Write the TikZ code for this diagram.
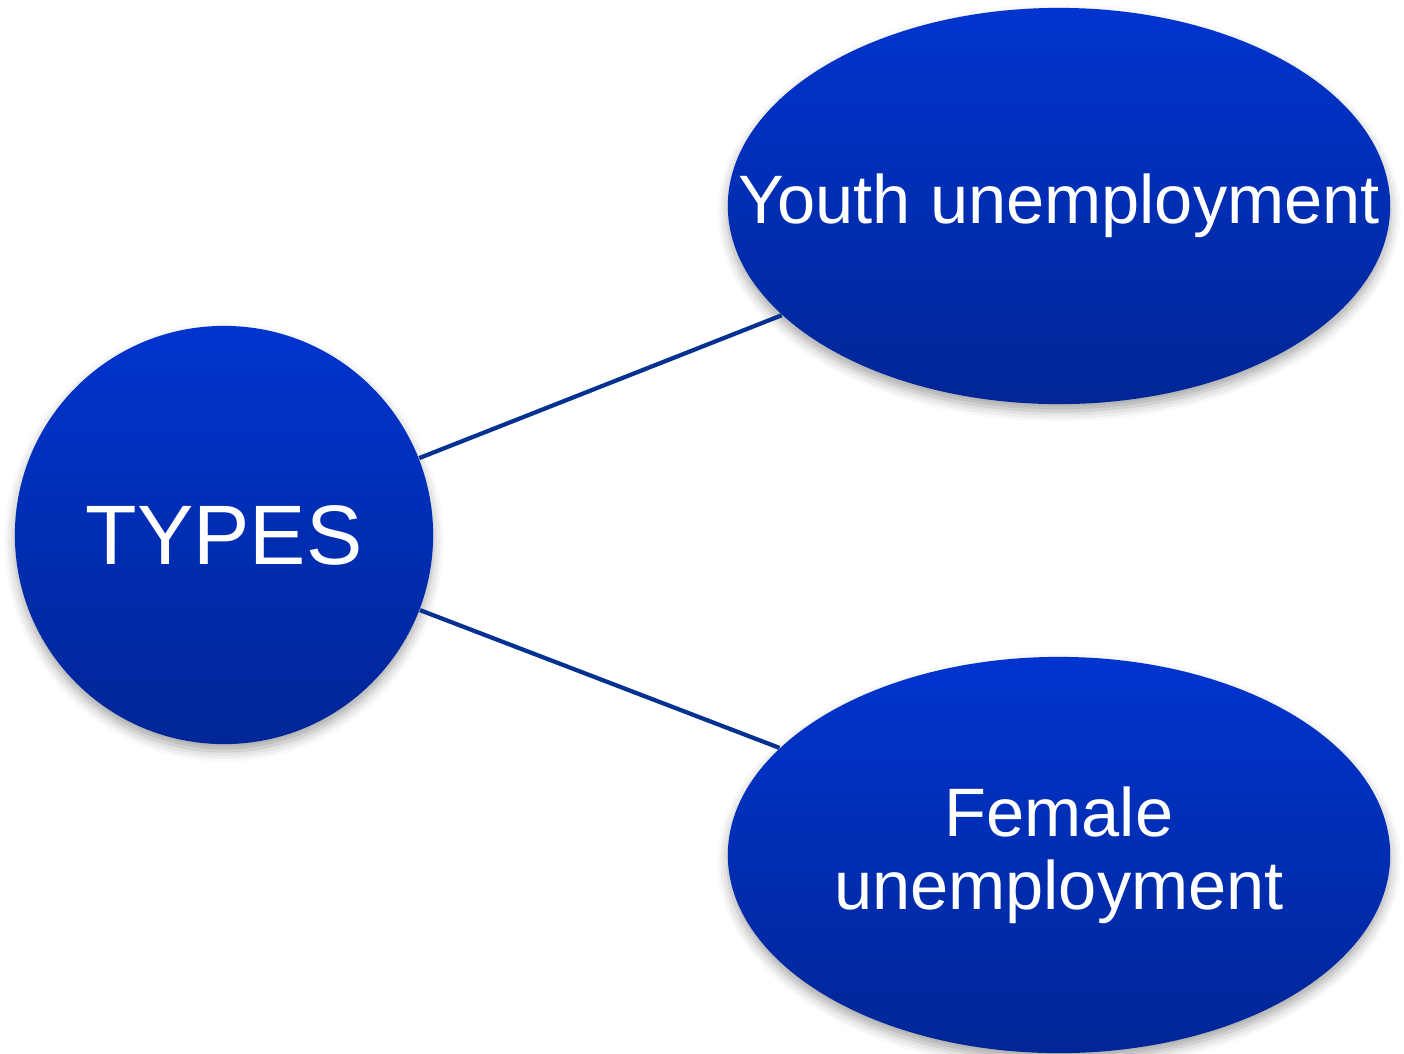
\documentclass[tikz,border=0pt]{standalone}
\usepackage{fontspec}
\setmainfont{Liberation Sans}
\usepackage{tikz}
\usetikzlibrary{shapes.geometric,shadows.blur}
\definecolor{typetop}{RGB}{0,52,206}
\definecolor{typebot}{RGB}{0,38,150}
\definecolor{linkblue}{RGB}{5,50,145}
\tikzstyle{bubble}=[top color=typetop, bottom color=typebot, draw=none, text=white,
	blur shadow={shadow xshift=0pt, shadow yshift=-2pt, shadow blur radius=3pt, shadow opacity=35}]
\tikzstyle{hub}=[bubble, circle, minimum size=4.18cm, inner sep=0pt,
	font=\fontsize{24}{28}\selectfont]
\tikzstyle{leaf}=[bubble, ellipse, minimum width=6.62cm, minimum height=3.96cm, inner sep=0pt,
	align=center, font=\fontsize{19.5}{20.8}\selectfont]
\tikzstyle{link}=[draw=linkblue, line width=1.2pt]
% text wider than the ellipse, kept from growing it
\newcommand{\widetext}[1]{\makebox[0pt]{#1}}

\begin{document}
\begin{tikzpicture}[x=0.01cm, y=0.01cm]
	\useasboundingbox (0,0) rectangle (1404,1053);
	\node[hub] (types) at (224,518) {TYPES};
	\node[leaf] (youth) at (1059,847) {\widetext{Youth unemployment}};
	\node[leaf] (female) at (1059,198) {Female\\unemployment};
	\draw[link] (types) -- (youth);
	\draw[link] (types) -- (female);
\end{tikzpicture}
\end{document}
